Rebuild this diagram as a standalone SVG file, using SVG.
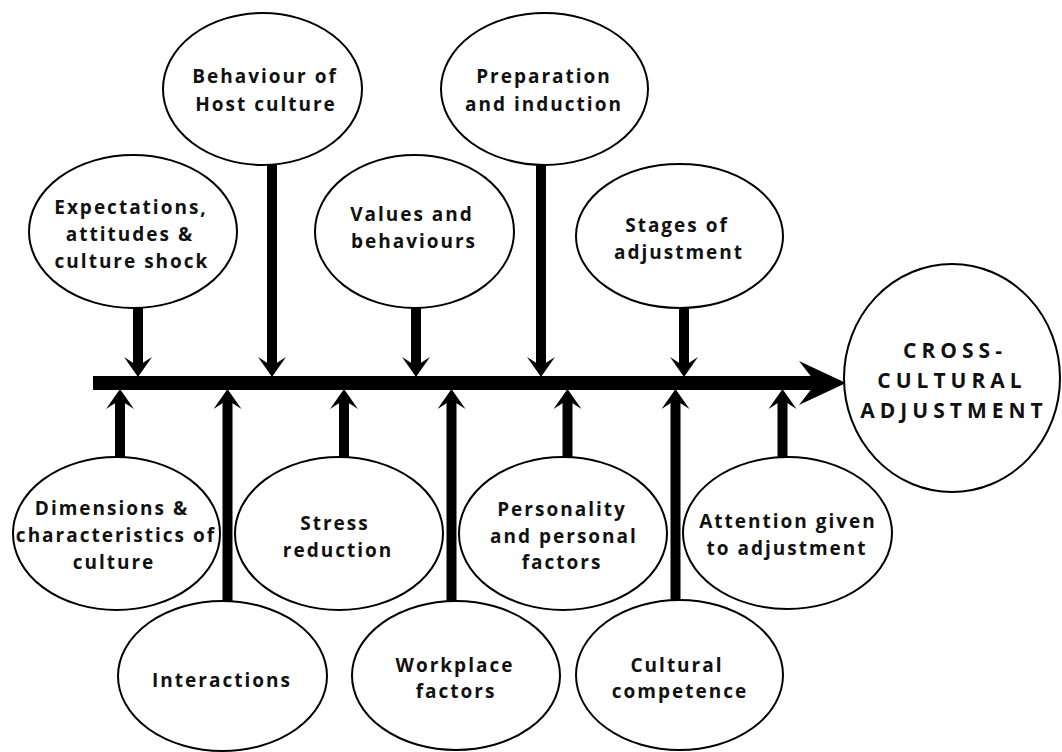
<svg xmlns="http://www.w3.org/2000/svg" width="1062" height="752" viewBox="0 0 1062 752">
<style>
.n{fill:#fff;stroke:#000;stroke-width:2}
.t{font-family:"Open Sans","Liberation Sans",sans-serif;font-weight:700;font-size:19px;letter-spacing:2px;fill:#111;text-anchor:middle}
.big{font-size:21px;letter-spacing:5px}
.c{fill:#000;stroke:none}
</style>
<rect width="1062" height="752" fill="#fff"/>
<g id="connectors">
  <rect class="c" x="93" y="376" width="724" height="14"/>
  <polygon class="c" points="846,383 799,361 816,383 799,405"/>
  <!-- down arrows -->
  <rect class="c" x="133" y="306" width="10" height="60"/>
  <polygon class="c" points="138,377 124,357 138,366 152,357"/>
  <rect class="c" x="267" y="163" width="10" height="203"/>
  <polygon class="c" points="272,377 258,357 272,366 286,357"/>
  <rect class="c" x="411" y="306" width="10" height="60"/>
  <polygon class="c" points="416,377 402,357 416,366 430,357"/>
  <rect class="c" x="536" y="163" width="10" height="203"/>
  <polygon class="c" points="541,377 527,357 541,366 555,357"/>
  <rect class="c" x="679" y="306" width="10" height="60"/>
  <polygon class="c" points="684,377 670,357 684,366 698,357"/>
  <!-- up arrows -->
  <rect class="c" x="115" y="400" width="10" height="59"/>
  <polygon class="c" points="120,389 106,409 120,400 134,409"/>
  <rect class="c" x="222.5" y="400" width="10" height="203"/>
  <polygon class="c" points="227.5,389 213.5,409 227.5,400 241.5,409"/>
  <rect class="c" x="339" y="400" width="10" height="59"/>
  <polygon class="c" points="344,389 330,409 344,400 358,409"/>
  <rect class="c" x="446.5" y="400" width="10" height="203"/>
  <polygon class="c" points="451.5,389 437.5,409 451.5,400 465.5,409"/>
  <rect class="c" x="562.5" y="400" width="10" height="59"/>
  <polygon class="c" points="567.5,389 553.5,409 567.5,400 581.5,409"/>
  <rect class="c" x="670.5" y="400" width="10" height="203"/>
  <polygon class="c" points="675.5,389 661.5,409 675.5,400 689.5,409"/>
  <rect class="c" x="777.5" y="400" width="10" height="59"/>
  <polygon class="c" points="782.5,389 768.5,409 782.5,400 796.5,409"/>
</g>
<g id="behaviour">
  <ellipse class="n" cx="262.5" cy="89" rx="99.5" ry="76"/>
  <text class="t"><tspan x="265" y="83">Behaviour of</tspan><tspan x="266" y="111">Host culture</tspan></text>
</g>
<g id="preparation">
  <ellipse class="n" cx="544.5" cy="89" rx="103.5" ry="76"/>
  <text class="t"><tspan x="544" y="83">Preparation</tspan><tspan x="544" y="111">and induction</tspan></text>
</g>
<g id="expectations">
  <ellipse class="n" cx="133" cy="231.5" rx="104" ry="76.5"/>
  <text class="t"><tspan x="131" y="214">Expectations,</tspan><tspan x="130" y="241">attitudes &amp;</tspan><tspan x="132" y="268">culture shock</tspan></text>
</g>
<g id="values">
  <ellipse class="n" cx="414.5" cy="231.5" rx="99.5" ry="76.5"/>
  <text class="t"><tspan x="412" y="221">Values and</tspan><tspan x="414" y="248">behaviours</tspan></text>
</g>
<g id="stages">
  <ellipse class="n" cx="679.5" cy="236" rx="103.5" ry="72"/>
  <text class="t"><tspan x="677" y="232">Stages of</tspan><tspan x="679" y="259">adjustment</tspan></text>
</g>
<g id="cross-cultural">
  <ellipse class="n" cx="952" cy="378" rx="108" ry="114"/>
  <text class="t big"><tspan x="955" y="358">CROSS-</tspan><tspan x="952" y="388">CULTURAL</tspan><tspan x="954" y="418">ADJUSTMENT</tspan></text>
</g>
<g id="dimensions">
  <ellipse class="n" cx="116.5" cy="533.5" rx="103.5" ry="76.5"/>
  <text class="t"><tspan x="112" y="515">Dimensions &amp;</tspan><tspan x="116" y="542">characteristics of</tspan><tspan x="114" y="569">culture</tspan></text>
</g>
<g id="stress">
  <ellipse class="n" cx="339" cy="533.5" rx="104" ry="76.5"/>
  <text class="t"><tspan x="335" y="530">Stress</tspan><tspan x="338" y="557">reduction</tspan></text>
</g>
<g id="personality">
  <ellipse class="n" cx="563" cy="533.5" rx="104" ry="76.5"/>
  <text class="t"><tspan x="562" y="516">Personality</tspan><tspan x="564" y="543">and personal</tspan><tspan x="562" y="569">factors</tspan></text>
</g>
<g id="attention">
  <ellipse class="n" cx="787.5" cy="533" rx="104.5" ry="76"/>
  <text class="t"><tspan x="788" y="528">Attention given</tspan><tspan x="787" y="555">to adjustment</tspan></text>
</g>
<g id="interactions">
  <ellipse class="n" cx="222.5" cy="676" rx="104.5" ry="75"/>
  <text class="t"><tspan x="222" y="687">Interactions</tspan></text>
</g>
<g id="workplace">
  <ellipse class="n" cx="456" cy="675.5" rx="104" ry="74.5"/>
  <text class="t"><tspan x="455" y="672">Workplace</tspan><tspan x="456" y="698">factors</tspan></text>
</g>
<g id="cultural-competence">
  <ellipse class="n" cx="679.5" cy="675" rx="103.5" ry="75"/>
  <text class="t"><tspan x="677" y="672">Cultural</tspan><tspan x="680" y="698">competence</tspan></text>
</g>
</svg>
